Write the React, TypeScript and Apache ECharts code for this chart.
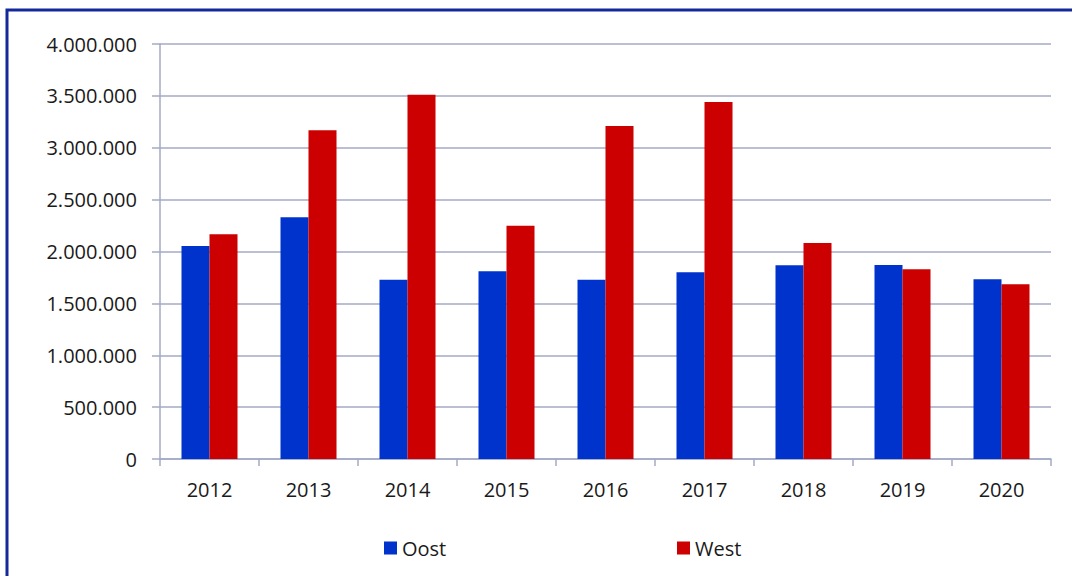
import React, { useEffect, useRef } from "react";
import * as echarts from "echarts";

const years = ["2012", "2013", "2014", "2015", "2016", "2017", "2018", "2019", "2020"];
const oost = [2053000, 2329000, 1728000, 1809000, 1728000, 1799000, 1867000, 1870000, 1732000];
const west = [2166000, 3168000, 3511000, 2249000, 3210000, 3441000, 2082000, 1828000, 1684000];
const seriesNames = ["Oost", "West"];
const seriesColors = ["#0033CC", "#CC0000"];

const FONT = "'Open Sans', 'Noto Sans', sans-serif";
const AXIS_COLOR = "#A3AAC6";

function fmt(v: number): string {
  return String(Math.round(v)).replace(/\B(?=(\d{3})+(?!\d))/g, ".");
}

export default function App() {
  const ref = useRef<HTMLDivElement>(null);
  useEffect(() => {
    if (!ref.current) return;
    const chart = echarts.init(ref.current, undefined, { renderer: "svg" });
    chart.setOption({
      animation: false,
      backgroundColor: "#ffffff",
      graphic: [
        {
          type: "rect",
          shape: { x: 7, y: 10, width: 1200, height: 700 },
          style: { fill: "none", stroke: "#14289C", lineWidth: 3 },
          silent: true,
        },
      ],
      grid: { left: 160, right: 21, top: 44, bottom: 117, containLabel: false },
      legend: [
        {
          data: [seriesNames[0]],
          left: 384,
          top: 538,
          padding: 0,
          itemWidth: 13,
          itemHeight: 13,
          icon: "rect",
          textStyle: { fontFamily: FONT, fontSize: 20, color: "#1a1a1a" },
        },
        {
          data: [seriesNames[1]],
          left: 677,
          top: 538,
          padding: 0,
          itemWidth: 13,
          itemHeight: 13,
          icon: "rect",
          textStyle: { fontFamily: FONT, fontSize: 20, color: "#1a1a1a" },
        },
      ],
      xAxis: {
        type: "category",
        data: years,
        boundaryGap: true,
        axisLine: { show: true, lineStyle: { color: AXIS_COLOR, width: 1.5 } },
        axisTick: { show: true, length: 7, alignWithLabel: false, lineStyle: { color: AXIS_COLOR, width: 1.5 } },
        axisLabel: { fontFamily: FONT, fontSize: 20, color: "#1a1a1a", margin: 20 },
        splitLine: { show: false },
      },
      yAxis: {
        type: "value",
        min: 0,
        max: 4000000,
        interval: 500000,
        axisLine: { show: true, lineStyle: { color: AXIS_COLOR, width: 1.5 } },
        axisTick: { show: true, length: 8, lineStyle: { color: AXIS_COLOR, width: 1.5 } },
        axisLabel: {
          fontFamily: FONT,
          fontSize: 20,
          color: "#1a1a1a",
          margin: 23,
          formatter: (v: number) => fmt(v),
        },
        splitLine: { show: true, lineStyle: { color: AXIS_COLOR, width: 1.5 } },
      },
      series: [
        {
          name: seriesNames[0],
          type: "bar",
          data: oost,
          barWidth: 28,
          barGap: "0%",
          itemStyle: { color: seriesColors[0] },
        },
        {
          name: seriesNames[1],
          type: "bar",
          data: west,
          barWidth: 28,
          barGap: "0%",
          itemStyle: { color: seriesColors[1] },
        },
      ],
    });
    return () => chart.dispose();
  }, []);
  return (
    <div
      ref={ref}
      style={{ position: "fixed", left: 0, top: 0, width: 1072, height: 576, background: "#fff" }}
    />
  );
}
